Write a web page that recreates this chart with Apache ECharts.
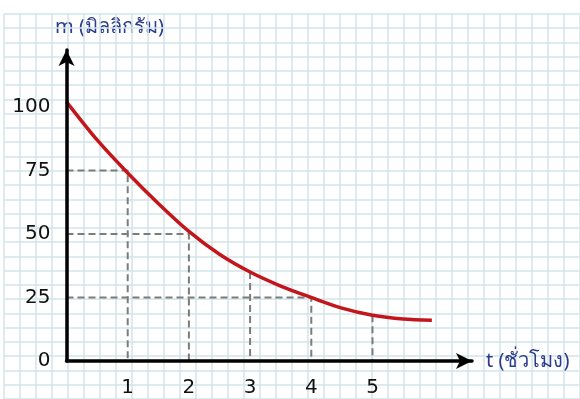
<!DOCTYPE html>
<html>
<head>
  <meta charset="utf-8">
  <title>m-t decay</title>
  <script src="https://cdn.jsdelivr.net/npm/echarts@6/dist/echarts.min.js"></script>
  <style>
    body { margin: 0; padding: 0; background: #fff; }
    #main { width: 580px; height: 399px; }
  </style>
</head>
<body>
<div id="main"></div>
<script>
  // ข้อมูลกราฟ (อ่านจากภาพ)
  var timeHours = [0, 0.5, 1, 1.5, 2, 2.5, 3, 3.5, 4, 4.5, 5, 5.5, 5.97];
  var massMg = [102, 87, 74, 62, 51, 42, 35, 29.5, 25, 20.8, 18, 16.5, 16];
  var guideT = [1, 2, 3, 4, 5];
  var guideM = [75, 50, 35, 25, 18];
  var guideToAxis = [true, true, false, true, false];
  var xTickLabels = [1, 2, 3, 4, 5];
  var yTickLabels = [0, 25, 50, 75, 100];

  var myChart = echarts.init(document.getElementById('main'));

  var curve = timeHours.map(function (t, i) { return [t, massMg[i]]; });

  // เส้นประช่วยอ่านค่า
  var guides = guideT.map(function (t, i) {
    var pts = guideToAxis[i] ? [[0, guideM[i]], [t, guideM[i]], [t, 0]] : [[t, guideM[i]], [t, 0]];
    return {
      type: 'line',
      xAxisIndex: 1,
      yAxisIndex: 1,
      data: pts,
      symbol: 'none',
      silent: true,
      z: 3,
      lineStyle: { color: '#7c7c7c', width: 2, type: [7, 4] }
    };
  });

  var paperLine = { show: true, lineStyle: { color: '#d2e3e9', width: 1.5 } };
  var labelFont = { color: '#111', fontSize: 20, fontFamily: 'DejaVu Sans' };

  var option = {
    animation: false,
    backgroundColor: '#fff',
    grid: [
      // กระดาษกราฟพื้นหลัง
      { left: 3.8, top: 13.8, width: 591.5, height: 394.7 },
      { left: 66.5, top: 50, width: 405.5, height: 311 }
    ],
    xAxis: [{
      gridIndex: 0, type: 'value', min: 0, max: 36, interval: 1,
      axisLine: { show: false }, axisTick: { show: false }, axisLabel: { show: false },
      splitLine: paperLine
    }, {
      gridIndex: 1, type: 'value', min: 0, max: 6.626, interval: 1, z: 5,
      name: 't (ชั่วโมง)', nameLocation: 'end', nameGap: 14,
      nameTextStyle: { color: '#2b3b8e', fontSize: 20, fontFamily: 'Noto Sans', verticalAlign: 'middle' },
      axisLine: { show: true, symbol: ['none', 'arrow'], symbolSize: [12, 16], lineStyle: { color: '#000', width: 3.5 } },
      axisTick: { show: false },
      splitLine: { show: false },
      axisLabel: Object.assign({
        margin: 17,
        formatter: function (v) { return xTickLabels.indexOf(v) >= 0 ? String(v) : ''; }
      }, labelFont)
    }],
    yAxis: [{
      gridIndex: 0, type: 'value', min: 0, max: 27, interval: 1,
      axisLine: { show: false }, axisTick: { show: false }, axisLabel: { show: false },
      splitLine: paperLine
    }, {
      gridIndex: 1, type: 'value', min: 0, max: 122.4, interval: 25, z: 5,
      axisLine: { show: true, symbol: ['none', 'arrow'], symbolSize: [12, 16], lineStyle: { color: '#000', width: 3.5 } },
      axisTick: { show: false },
      splitLine: { show: false },
      axisLabel: Object.assign({
        margin: 16,
        formatter: function (v) { return yTickLabels.indexOf(v) >= 0 ? String(v) : ''; }
      }, labelFont)
    }],
    graphic: [{
      type: 'text',
      left: 55,
      top: 17,
      style: { text: 'm (มิลลิกรัม)', fill: '#2b3b8e', fontSize: 20, fontFamily: 'Noto Sans' }
    }],
    series: guides.concat([{
      type: 'line',
      xAxisIndex: 1,
      yAxisIndex: 1,
      data: curve,
      smooth: 0.3,
      symbol: 'none',
      z: 4,
      lineStyle: { color: '#c3161c', width: 3.5 }
    }])
  };

  myChart.setOption(option);
</script>
</body>
</html>
